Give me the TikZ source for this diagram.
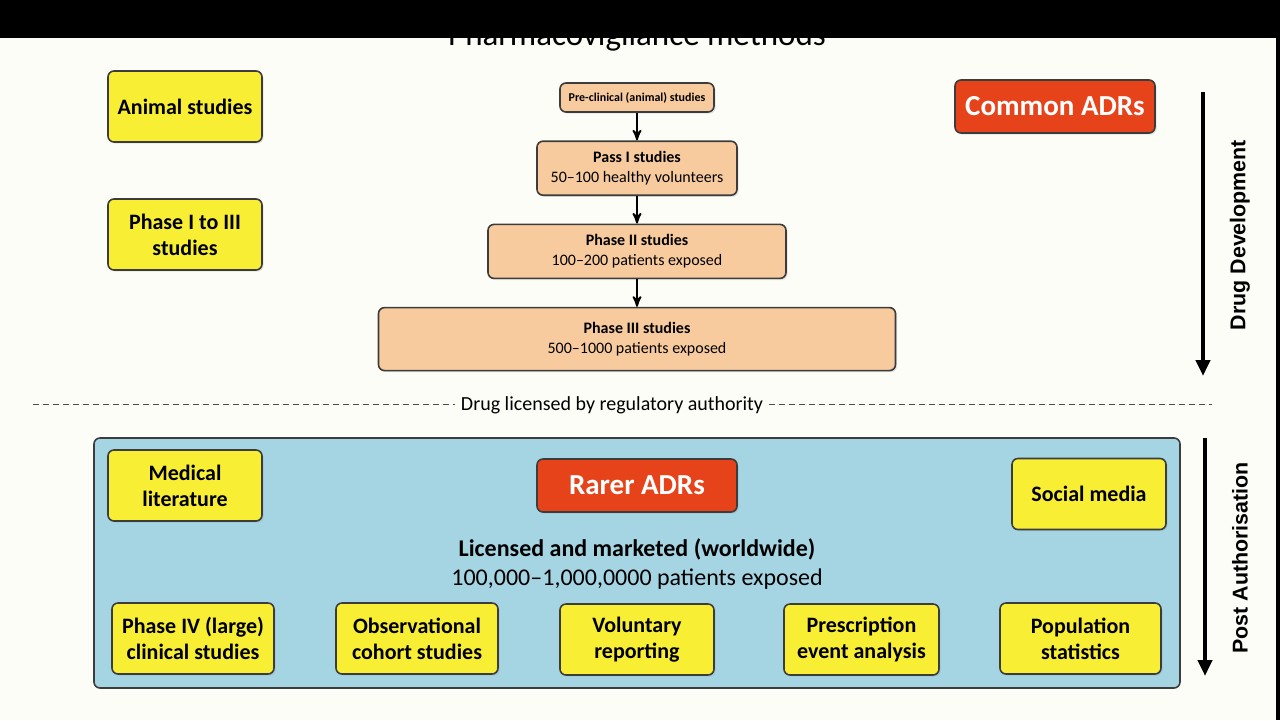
\documentclass[tikz,border=0pt]{standalone}
\usepackage{fontspec}
\setmainfont{Carlito}
\newfontfamily\arialfont{Liberation Sans}
\usetikzlibrary{arrows,arrows.meta,positioning,shadows}

\definecolor{boxyellow}{HTML}{F8EE34}
\definecolor{boxpeach}{HTML}{F8CB9F}
\definecolor{boxred}{HTML}{E7431B}
\definecolor{panelblue}{HTML}{A5D5E3}
\definecolor{pageback}{HTML}{FDFDF8}
\definecolor{edgegray}{HTML}{3C3C3C}

\tikzset{
  method/.style={draw=edgegray, fill=boxyellow, rounded corners=3pt, line width=0.8pt, align=center,
    font=\fontsize{11}{13}\selectfont\bfseries, minimum width=77pt, minimum height=35.5pt,
    drop shadow={opacity=0.2,shadow xshift=0.8pt,shadow yshift=-0.8pt}},
  trial/.style={draw=edgegray, fill=boxpeach, rounded corners=3pt, line width=0.8pt, align=center,
    font=\fontsize{8}{10}\selectfont, minimum height=27pt,
    drop shadow={opacity=0.2,shadow xshift=0.8pt,shadow yshift=-0.8pt}},
  adr/.style={draw=edgegray, fill=boxred, text=white, rounded corners=3pt, line width=0.8pt,
    font=\fontsize{14.5}{17}\selectfont\bfseries, minimum width=100pt, minimum height=26.5pt,
    drop shadow={opacity=0.2,shadow xshift=0.8pt,shadow yshift=-0.8pt}},
  panel/.style={draw=edgegray, fill=panelblue, rounded corners=3pt, line width=0.8pt},
  phase/.style={->, line width=0.9pt},
  timeline/.style={-{Triangle[width=7pt,length=8pt]}, line width=2pt},
  sidelabel/.style={rotate=90, font=\arialfont\fontsize{10.7}{13}\selectfont\bfseries}
}

\begin{document}
\begin{tikzpicture}[x=0.5pt,y=-0.5pt,>=stealth',node distance=13.8pt]
\useasboundingbox (0,0) rectangle (1280,720);
\fill[pageback] (0,0) rectangle (1280,720);

% title, mostly hidden by the black bar
\node[anchor=base, font=\fontsize{16.5}{19}\selectfont] (title) at (637,45) {Pharmacovigilance methods};
\fill[black] (0,0) rectangle (1280,38);
\fill[black] (1276,0) rectangle (1280,720);

% pre-marketing studies
\node[trial, font=\fontsize{6}{7}\selectfont\bfseries, minimum width=77pt, minimum height=14.5pt] (pre) at (637,97.5) {Pre-clinical (animal) studies};
\node[trial, minimum width=100pt]   (ph1) [below=of pre] {\textbf{Pass I studies}\\50--100 healthy volunteers};
\node[trial, minimum width=149pt]   (ph2) [below=of ph1] {\textbf{Phase II studies}\\100--200 patients exposed};
\node[trial, minimum width=258.5pt, minimum height=31.5pt] (ph3) [below=of ph2] {\textbf{Phase III studies}\\500--1000 patients exposed};

\path[phase] (pre) edge (ph1)
             (ph1) edge (ph2)
             (ph2) edge (ph3);

\node[method] (animal) at (185,106.5) {Animal studies};
\node[method] (trials) at (185,234.5) {Phase I to III\\studies};
\node[adr]    (common) at (1055,106.5) {Common ADRs};

% licensing line
\node[font=\fontsize{10}{12}\selectfont, inner sep=3pt] (licence) at (612,405) {Drug licensed by regulatory authority};
\coordinate (dashL) at (33,404);
\coordinate (dashR) at (1212,404);
\draw[dash pattern=on 3pt off 2pt, gray!60!black, line width=0.5pt] (dashL) -- (dashL -| licence.west) (dashR -| licence.east) -- (dashR);

% post-marketing
\node[panel, minimum width=543pt, minimum height=125pt] (market) at (637,563) {};
\node[method] (literature) at (185,485.5) {Medical\\literature};
\node[adr]    (rarer)      at (637,485.5) {Rarer ADRs};
\node[method] (social)     at (1089,494)  {Social media};
\node[align=center, font=\fontsize{12}{14.5}\selectfont] (marketed) at (637,564)
  {\textbf{Licensed and marketed (worldwide)}\\100,000--1,000,0000 patients exposed};

\node[method, minimum width=81pt]   (phase4)       at (193,638.5)   {Phase IV (large)\\clinical studies};
\node[method, minimum width=81pt]   (cohort)       at (417,638.5)   {Observational\\cohort studies};
\node[method]                       (voluntary)    at (637,639.5)   {Voluntary\\reporting};
\node[method, minimum width=77.5pt] (prescription) at (861.5,639.5) {Prescription\\event analysis};
\node[method, minimum width=80.5pt] (population)   at (1080.5,638.5) {Population\\statistics};

% time arrows
\coordinate (devtop) at (1203,92);
\coordinate (devend) at (1203,376);
\coordinate (posttop) at (1205,438);
\coordinate (postend) at (1205,676);
\draw[timeline] (devtop) -- (devend);
\draw[timeline] (posttop) -- (postend);
\node[sidelabel] (devlabel)  at (1240,235) {Drug Development};
\node[sidelabel] (postlabel) at (1240,558) {Post Authorisation};

\end{tikzpicture}
\end{document}
